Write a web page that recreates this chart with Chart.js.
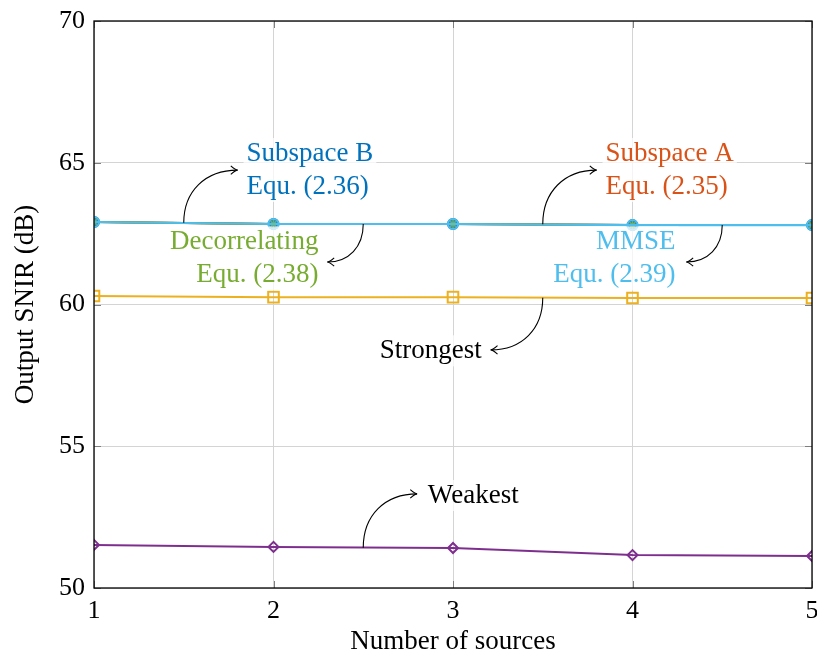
<!DOCTYPE html>
<html>
<head>
<meta charset="utf-8">
<script src="https://cdn.jsdelivr.net/npm/chart.js@4/dist/chart.umd.min.js"></script>
<style>
  html, body { margin: 0; padding: 0; background: #fff; }
  #wrap { width: 817px; height: 654px; position: relative; }
</style>
</head>
<body>
<div id="wrap"><canvas id="c" width="817" height="654"></canvas></div>
<script>
// ---- data ----
const sources = [1, 2, 3, 4, 5];
const subspaceA = [62.91, 62.84, 62.84, 62.80, 62.80];
const subspaceB = [62.91, 62.84, 62.84, 62.80, 62.80];
const decorrelating = [62.91, 62.84, 62.84, 62.80, 62.80];
const mmse = [62.91, 62.84, 62.84, 62.80, 62.80];
const strongest = [60.30, 60.26, 60.26, 60.23, 60.23];
const weakest = [51.52, 51.45, 51.41, 51.16, 51.13];
const yTicks = [50, 55, 60, 65, 70];
const xTicks = [1, 2, 3, 4, 5];

// annotation callouts: arrow from (x0,y0) to (x1,y1), text anchored at (tx,ty)
const callouts = [
  { lines: ['Subspace B', 'Equ. (2.36)'], color: '#0072BD', x0: 1.5, y0: 62.88, x1: 1.80, y1: 64.74, tx: 1.85, ty: 64.78, align: 'left' },
  { lines: ['Decorrelating', 'Equ. (2.38)'], color: '#77AC30', x0: 2.5, y0: 62.84, x1: 2.30, y1: 61.50, tx: 2.25, ty: 61.66, align: 'right' },
  { lines: ['Subspace A', 'Equ. (2.35)'], color: '#D95319', x0: 3.5, y0: 62.83, x1: 3.80, y1: 64.74, tx: 3.85, ty: 64.78, align: 'left' },
  { lines: ['MMSE', 'Equ. (2.39)'], color: '#4DBEEE', x0: 4.5, y0: 62.80, x1: 4.30, y1: 61.50, tx: 4.24, ty: 61.66, align: 'right' },
  { lines: ['Strongest'], color: '#000000', x0: 3.5, y0: 60.24, x1: 3.21, y1: 58.40, tx: 3.16, ty: 58.40, align: 'right' },
  { lines: ['Weakest'], color: '#000000', x0: 2.5, y0: 51.42, x1: 2.80, y1: 53.32, tx: 2.86, ty: 53.30, align: 'left' }
];

const FONT = '"Liberation Serif", "Times New Roman", serif';
const FS = 26;
const FS_TEXT = 27;

function pts(arr) { return sources.map((x, i) => ({ x: x, y: arr[i] })); }

const boxPlugin = {
  id: 'box',
  beforeDatasetsDraw(chart) {
    const a = chart.chartArea, ctx = chart.ctx;
    ctx.save();
    ctx.strokeStyle = '#7f7f7f';
    ctx.lineWidth = 1;
    const xs = chart.scales.x, ys = chart.scales.y;
    xTicks.forEach(v => {
      const px = Math.round(xs.getPixelForValue(v)) + 0.5;
      ctx.beginPath(); ctx.moveTo(px, a.bottom); ctx.lineTo(px, a.bottom - 7); ctx.stroke();
      ctx.beginPath(); ctx.moveTo(px, a.top); ctx.lineTo(px, a.top + 7); ctx.stroke();
    });
    yTicks.forEach(v => {
      const py = Math.round(ys.getPixelForValue(v)) + 0.5;
      ctx.beginPath(); ctx.moveTo(a.left, py); ctx.lineTo(a.left + 7, py); ctx.stroke();
      ctx.beginPath(); ctx.moveTo(a.right, py); ctx.lineTo(a.right - 7, py); ctx.stroke();
    });
    ctx.restore();
  },
  afterDraw(chart) {
    const a = chart.chartArea, ctx = chart.ctx;
    ctx.save();
    ctx.strokeStyle = '#000';
    ctx.lineWidth = 1.3;
    ctx.strokeRect(a.left, a.top, a.right - a.left, a.bottom - a.top);
    ctx.restore();
  }
};

const calloutPlugin = {
  id: 'callouts',
  afterDatasetsDraw(chart) {
    const ctx = chart.ctx, xs = chart.scales.x, ys = chart.scales.y;
    ctx.save();
    callouts.forEach(c => {
      const x0 = xs.getPixelForValue(c.x0), y0 = ys.getPixelForValue(c.y0);
      const x1 = xs.getPixelForValue(c.x1), y1 = ys.getPixelForValue(c.y1);
      const tx = xs.getPixelForValue(c.tx), ty = ys.getPixelForValue(c.ty);
      ctx.font = FS_TEXT + 'px ' + FONT;
      const lh = 33;
      const n = c.lines.length;
      const widths = c.lines.map(s => ctx.measureText(s).width);
      const maxW = Math.max.apply(null, widths);
      const top = ty - n * lh / 2;
      const bx = c.align === 'left' ? tx - 3 : tx - maxW - 3;
      ctx.fillStyle = 'rgba(255,255,255,0.75)';
      ctx.fillRect(bx, top + 2, maxW + 6, n * lh - 2);
      ctx.fillStyle = c.color;
      ctx.textAlign = c.align;
      ctx.textBaseline = 'middle';
      c.lines.forEach((s, i) => {
        ctx.fillText(s, tx, top + lh * i + lh / 2 + 1);
      });
      const dx = x1 - x0, dy = y1 - y0;
      const c1x = x0, c1y = y0 + 0.6 * dy;
      const c2x = x1 - 0.6 * dx, c2y = y1;
      ctx.strokeStyle = '#000';
      ctx.lineWidth = 1.1;
      ctx.beginPath();
      ctx.moveTo(x0, y0);
      ctx.bezierCurveTo(c1x, c1y, c2x, c2y, x1, y1);
      ctx.stroke();
      const ang = Math.atan2(y1 - c2y, x1 - c2x);
      const L = 8, spread = 0.55;
      ctx.beginPath();
      ctx.moveTo(x1 - L * Math.cos(ang - spread), y1 - L * Math.sin(ang - spread));
      ctx.quadraticCurveTo(x1 - 2 * Math.cos(ang), y1 - 2 * Math.sin(ang), x1, y1);
      ctx.quadraticCurveTo(x1 - 2 * Math.cos(ang), y1 - 2 * Math.sin(ang), x1 - L * Math.cos(ang + spread), y1 - L * Math.sin(ang + spread));
      ctx.stroke();
    });
    ctx.restore();
  }
};

new Chart(document.getElementById('c'), {
  type: 'line',
  data: {
    datasets: [
      { label: 'MMSE', data: pts(mmse), borderColor: '#4DBEEE', backgroundColor: 'rgba(0,0,0,0)',
        pointStyle: 'circle', pointRadius: 5, pointBorderWidth: 2, pointBorderColor: '#4DBEEE', pointBackgroundColor: 'rgba(77,190,238,0.25)', borderWidth: 2.2, order: 0 },
      { label: 'Decorrelating', data: pts(decorrelating), borderColor: '#77AC30', backgroundColor: '#77AC30',
        pointStyle: 'star', pointRadius: 4, pointBorderWidth: 1.5, pointBorderColor: '#77AC30', borderWidth: 2, order: 1 },
      { label: 'Subspace A', data: pts(subspaceA), borderColor: '#D95319', backgroundColor: '#D95319',
        pointStyle: 'crossRot', pointRadius: 4, pointBorderWidth: 1.5, pointBorderColor: '#D95319', borderWidth: 2, order: 2 },
      { label: 'Subspace B', data: pts(subspaceB), borderColor: '#0072BD', backgroundColor: '#0072BD',
        pointStyle: 'circle', pointRadius: 5, pointBorderWidth: 2, pointBorderColor: '#0072BD', borderWidth: 2, order: 3 },
      { label: 'Strongest', data: pts(strongest), borderColor: '#EDB120', backgroundColor: 'rgba(0,0,0,0)',
        pointStyle: 'rect', pointRadius: 7.5, pointBorderWidth: 2, pointBorderColor: '#EDB120', pointBackgroundColor: 'rgba(255,255,255,0)', borderWidth: 2, order: 4 },
      { label: 'Weakest', data: pts(weakest), borderColor: '#7E2F8E', backgroundColor: 'rgba(0,0,0,0)',
        pointStyle: 'rectRot', pointRadius: 5, pointBorderWidth: 2, pointBorderColor: '#7E2F8E', pointBackgroundColor: 'rgba(255,255,255,0)', borderWidth: 2, order: 5 }
    ]
  },
  options: {
    responsive: false,
    animation: false,
    events: [],
    layout: { autoPadding: false, padding: { left: 0, right: 5, top: 21, bottom: 0 } },
    plugins: { legend: { display: false }, tooltip: { enabled: false } },
    elements: { line: { tension: 0 } },
    scales: {
      x: {
        type: 'linear', min: 1, max: 5,
        afterBuildTicks(s) { s.ticks = xTicks.map(v => ({ value: v })); },
        afterFit(s) { s.height = 66; s.paddingLeft = 0; s.paddingRight = 0; },
        grid: { color: '#d4d4d4', lineWidth: 1, drawTicks: false },
        border: { display: false },
        ticks: { color: '#000', padding: 8, font: { family: FONT, size: FS }, maxRotation: 0, autoSkip: false },
        title: { display: true, text: 'Number of sources', color: '#000', font: { family: FONT, size: FS_TEXT }, padding: { top: 0, bottom: -4 } }
      },
      y: {
        type: 'linear', min: 50, max: 70,
        afterBuildTicks(s) { s.ticks = yTicks.map(v => ({ value: v })); },
        afterFit(s) { s.width = 94; s.paddingTop = 0; s.paddingBottom = 0; },
        grid: { color: '#d4d4d4', lineWidth: 1, drawTicks: false },
        border: { display: false },
        ticks: { color: '#000', padding: 9, font: { family: FONT, size: FS }, autoSkip: false },
        title: { display: true, text: 'Output SNIR (dB)', color: '#000', font: { family: FONT, size: FS_TEXT }, padding: { top: 10, bottom: 0 } }
      }
    }
  },
  plugins: [boxPlugin, calloutPlugin]
});
</script>
</body>
</html>
